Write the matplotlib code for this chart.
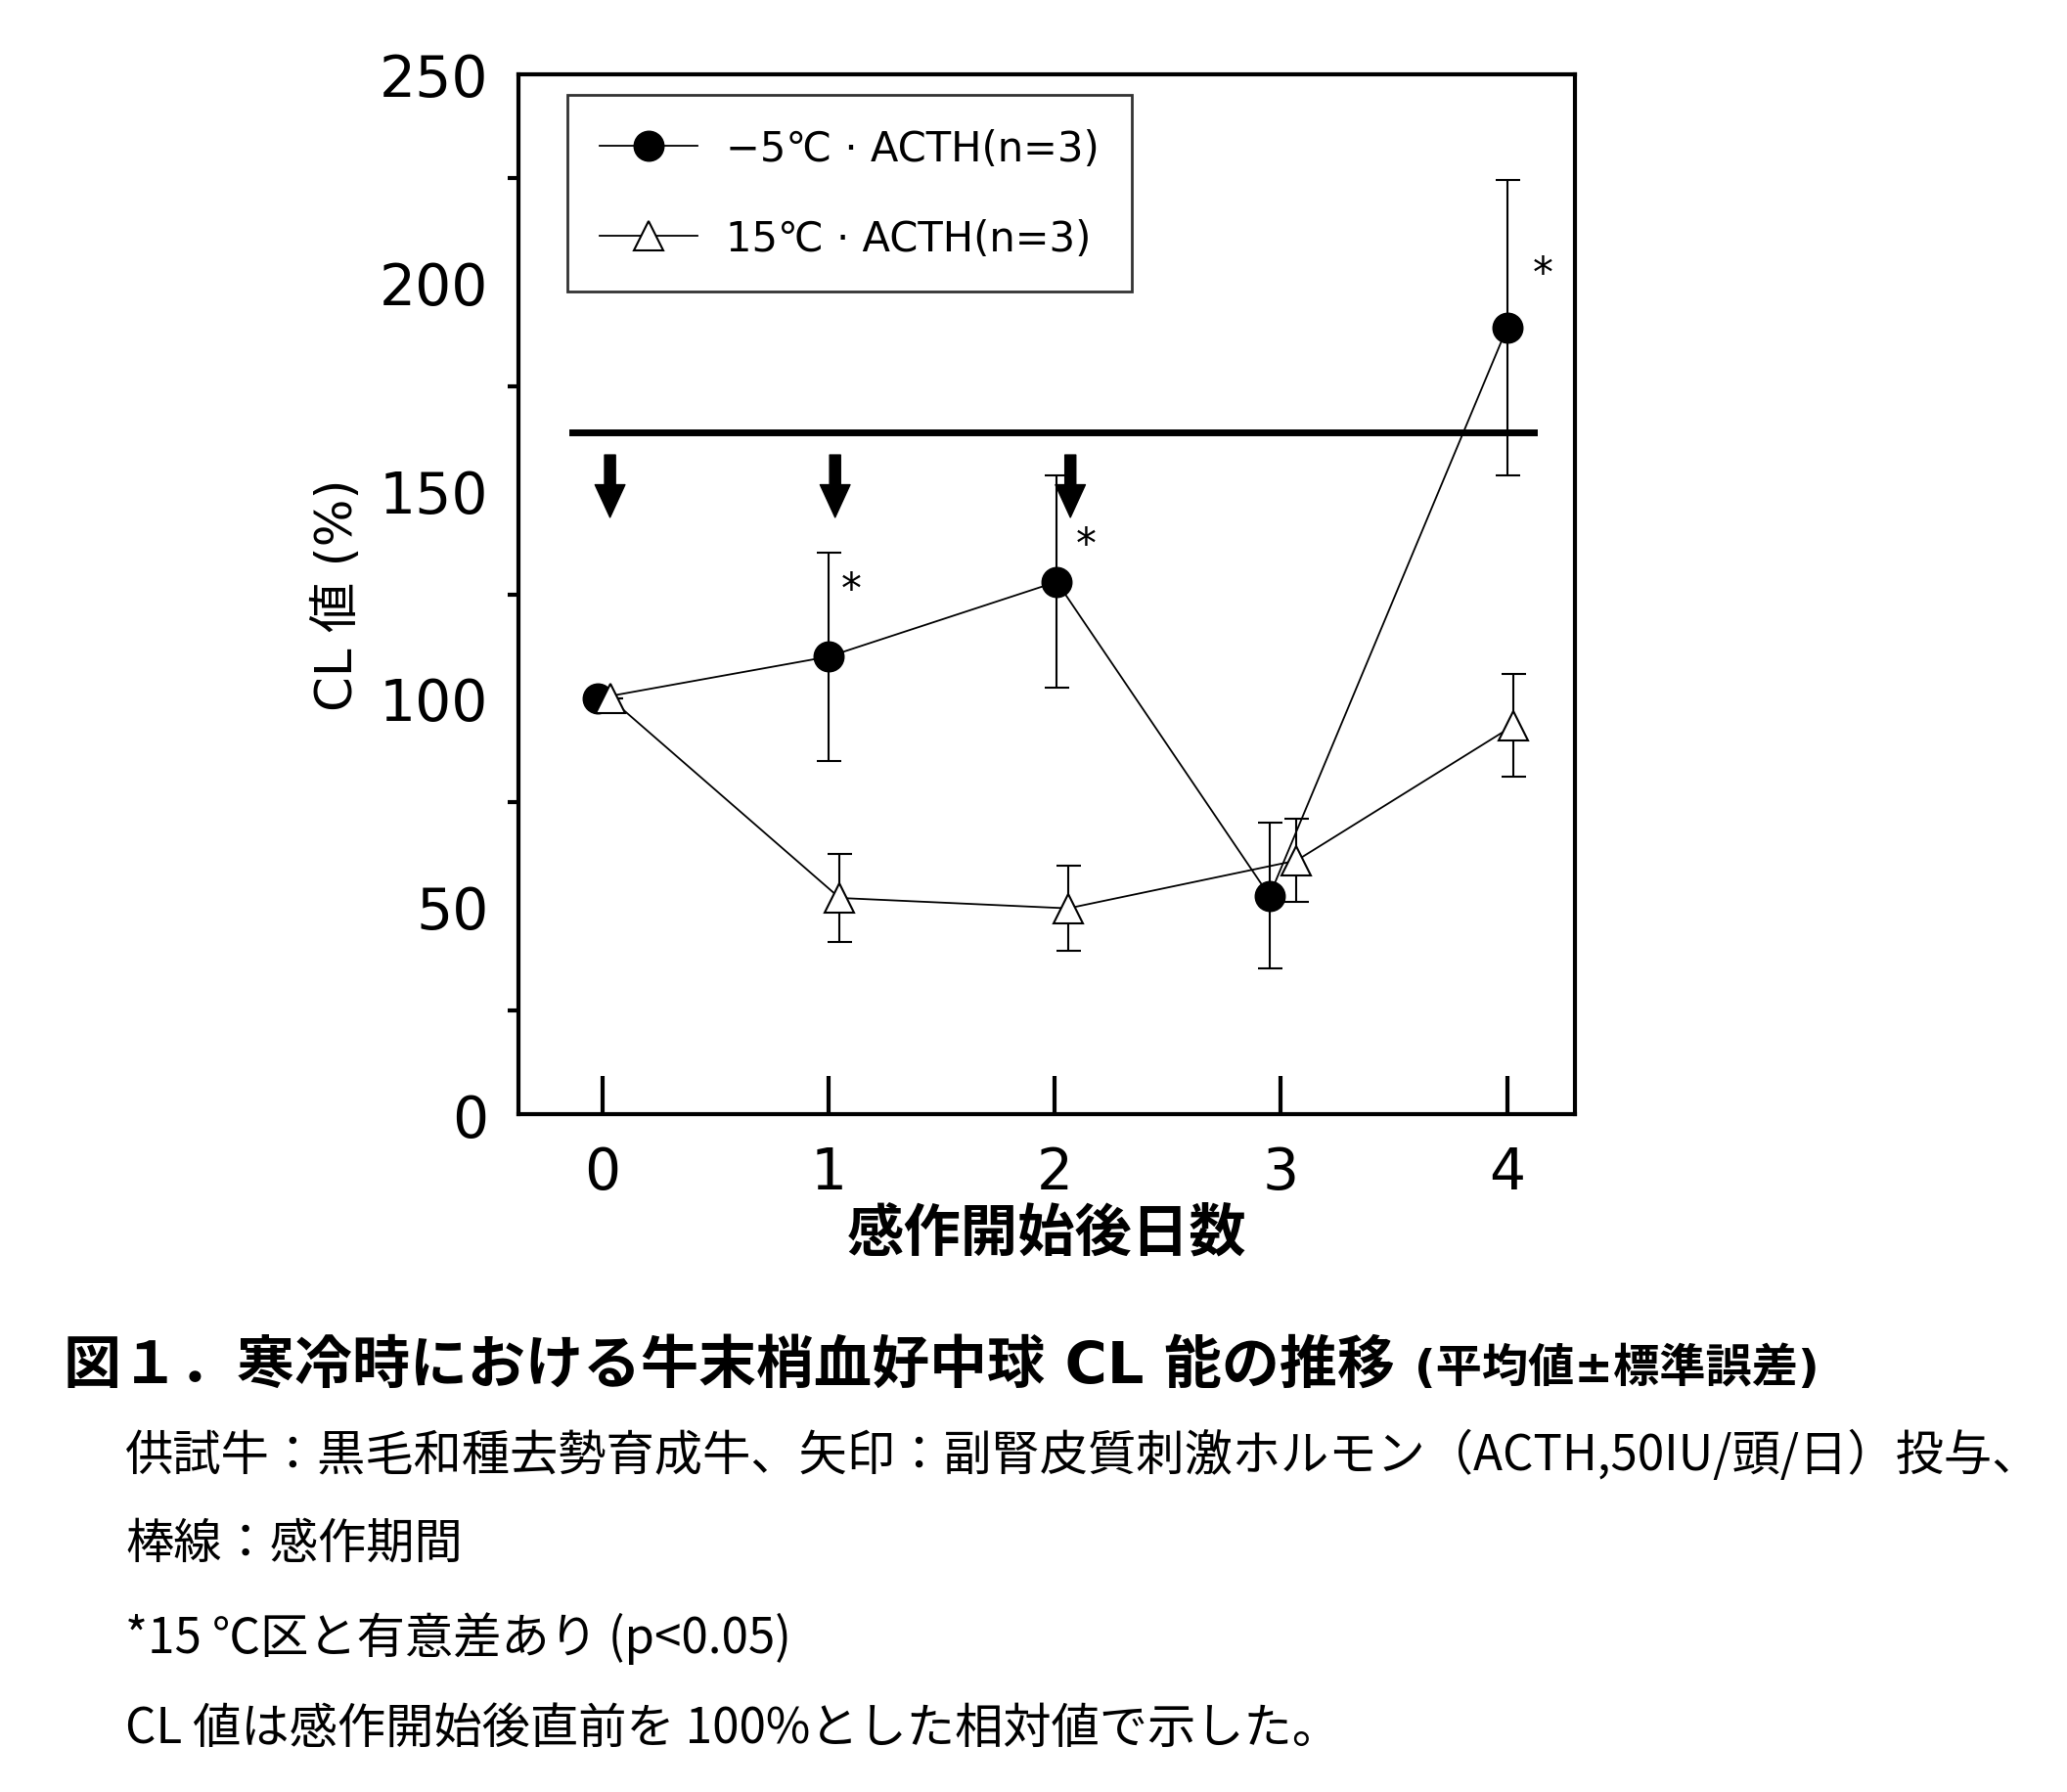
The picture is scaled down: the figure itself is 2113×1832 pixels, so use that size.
import numpy as np
import matplotlib
matplotlib.use("Agg")
import matplotlib.pyplot as plt
from matplotlib.lines import Line2D

plt.rcParams['font.family'] = ['DejaVu Sans', 'Noto Sans CJK JP']

# data
days = [0, 1, 2, 3, 4]
cold_mean = [100, 110, 128, 52.5, 189]
cold_se = [0, 25, 25.5, 17.5, 35.5]
warm_mean = [100, 52, 49.5, 61, 93.5]
warm_se = [0, 10.5, 10.3, 10, 12.3]
# small horizontal shifts used in the original so markers don't overlap
cold_shift = [-0.02, 0.0, 0.01, -0.05, 0.0]
warm_shift = [0.035, 0.05, 0.06, 0.07, 0.03]

period_level = 164
arrow_days = [0.035, 1.03, 2.07]
star_x = [1.1, 2.14, 4.16]
star_y = [126, 137, 202]

fig = plt.figure(figsize=(21.13, 18.33), dpi=100)
ax = fig.add_axes([0.2508, 0.378, 0.5111, 0.580])

xc = np.array(days) + np.array(cold_shift)
xw = np.array(days) + np.array(warm_shift)

ax.errorbar(xc, cold_mean, yerr=cold_se, fmt='none', ecolor='black',
            elinewidth=1.5, capsize=9, capthick=1.5, zorder=2)
ax.errorbar(xw, warm_mean, yerr=warm_se, fmt='none', ecolor='black',
            elinewidth=1.5, capsize=9, capthick=1.5, zorder=2)
ax.plot(xc, cold_mean, '-o', color='black', lw=1.3, ms=22,
        mfc='black', mec='black', zorder=3)
ax.plot(xw, warm_mean, '-^', color='black', lw=1.3, ms=21,
        mfc='white', mec='black', mew=1.5, zorder=4)

# treatment period bar
ax.plot([-0.13, 4.12], [period_level, period_level], color='black', lw=5, zorder=1)

# ACTH arrows
for xa in arrow_days:
    ax.annotate('', xy=(xa, 143.5), xytext=(xa, 158.5),
                arrowprops=dict(facecolor='black', edgecolor='black',
                                width=8, headwidth=22, headlength=24, shrink=0))

for sx, sy in zip(star_x, star_y):
    ax.text(sx, sy, '*', fontsize=30, ha='center', va='center')

ax.set_xlim(-0.37, 4.3)
ax.set_ylim(0, 250)
ax.set_xticks(days)
ax.set_xticklabels(['0', '1', '2', '3', '4'])
ax.set_yticks([0, 50, 100, 150, 200, 250])
ax.set_yticks([25, 75, 125, 175, 225], minor=True)
ax.tick_params(axis='x', direction='in', length=28, width=3, labelsize=42, pad=22)
ax.tick_params(axis='y', which='major', direction='out', length=0, labelsize=42, pad=22)
ax.tick_params(axis='y', which='minor', direction='out', length=8, width=3)
for s in ax.spines.values():
    s.set_linewidth(3)

ax.set_ylabel('CL 値 (%)', fontsize=37, labelpad=12)
ax.set_xlabel('感作開始後日数', fontsize=42, fontweight='bold', labelpad=4)

handles = [
    Line2D([], [], color='black', lw=1.3, marker='o', ms=22, mfc='black'),
    Line2D([], [], color='black', lw=1.3, marker='^', ms=21, mfc='white', mew=1.5),
]
labels = ['−5℃ · ACTH(n=3)', '15℃ · ACTH(n=3)']
leg = ax.legend(handles, labels, loc='upper left', bbox_to_anchor=(0.046, 0.98),
                borderaxespad=0, fontsize=30, frameon=True, fancybox=False,
                edgecolor='black', handlelength=2.4, labelspacing=1.2,
                borderpad=0.8, handletextpad=0.7)
leg.get_frame().set_linewidth(2)

W, H = 2113, 1833
fig.text(65 / W, 1 - 1397 / H, '図１．寒冷時における牛末梢血好中球 CL 能の推移',
         fontsize=42.5, fontweight='bold', va='center', ha='left')
fig.text(1446 / W, 1 - 1400 / H, '(平均値±標準誤差)',
         fontsize=34, fontweight='bold', va='center', ha='left')
notes = [
    '供試牛：黒毛和種去勢育成牛、矢印：副腎皮質刺激ホルモン（ACTH,50IU/頭/日）投与、',
    '棒線：感作期間',
    '*15 ℃区と有意差あり (p<0.05)',
    'CL 値は感作開始後直前を 100%とした相対値で示した。',
]
note_y = [1489, 1579, 1675, 1768]
for t, y in zip(notes, note_y):
    fig.text(128 / W, 1 - y / H, t, fontsize=35.5, va='center', ha='left',
             family=['Noto Sans CJK JP', 'DejaVu Sans'])

fig.savefig('out.png', dpi=100, facecolor='white')
